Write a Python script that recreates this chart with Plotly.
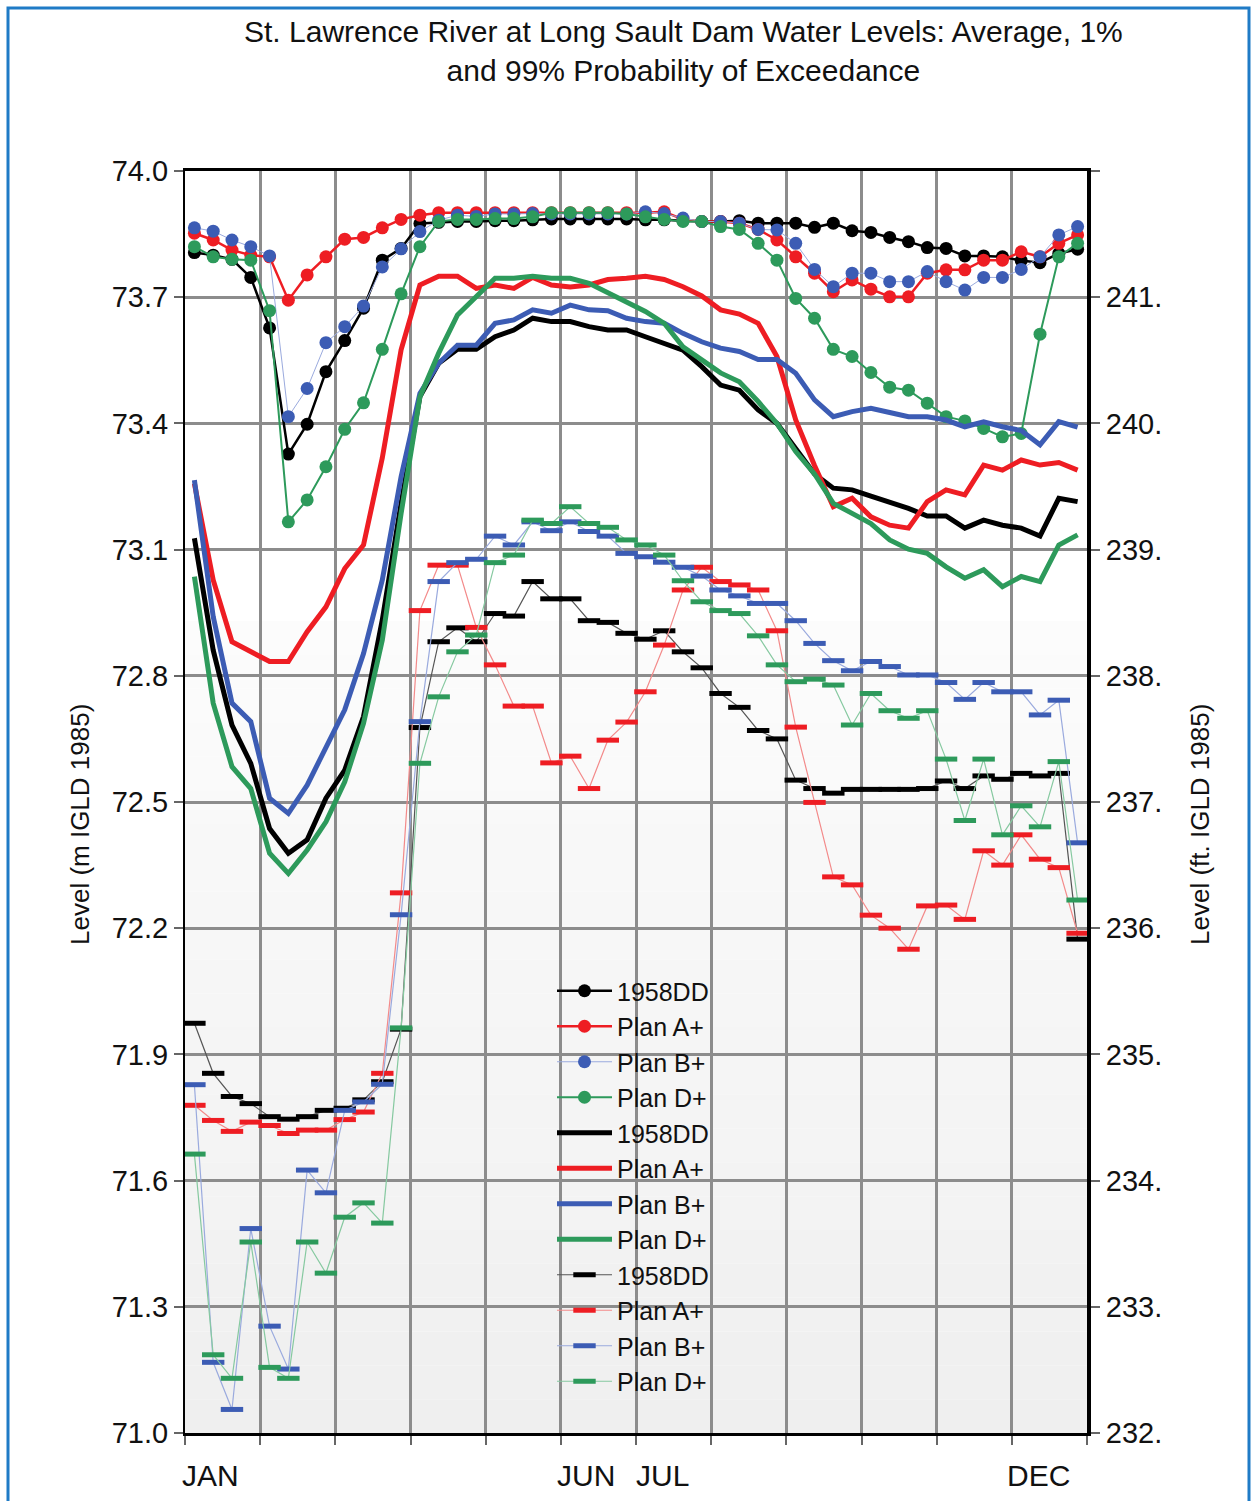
import plotly.graph_objects as go

weeks = list(range(1, 49))

# 1% exceedance (dots)
dd_1pct = [73.806, 73.800, 73.790, 73.747, 73.627, 73.327, 73.398, 73.523, 73.597, 73.674, 73.788, 73.816,
           73.875, 73.878, 73.880, 73.880, 73.882, 73.882, 73.884, 73.886, 73.886, 73.886, 73.886, 73.886,
           73.884, 73.884, 73.882, 73.880, 73.880, 73.882, 73.876, 73.876, 73.876, 73.866, 73.876, 73.858,
           73.854, 73.842, 73.832, 73.818, 73.816, 73.798, 73.798, 73.796, 73.787, 73.782, 73.804, 73.814]
a_1pct = [73.852, 73.836, 73.812, 73.800, 73.796, 73.693, 73.753, 73.796, 73.838, 73.842, 73.865, 73.885,
          73.895, 73.901, 73.901, 73.901, 73.901, 73.901, 73.901, 73.901, 73.901, 73.901, 73.901, 73.901,
          73.901, 73.903, 73.885, 73.880, 73.880, 73.876, 73.861, 73.836, 73.796, 73.757, 73.713, 73.741,
          73.719, 73.701, 73.701, 73.757, 73.765, 73.765, 73.788, 73.788, 73.808, 73.796, 73.828, 73.848]
b_1pct = [73.865, 73.857, 73.836, 73.820, 73.798, 73.416, 73.483, 73.592, 73.630, 73.679, 73.772, 73.815,
          73.856, 73.883, 73.895, 73.892, 73.898, 73.898, 73.899, 73.898, 73.898, 73.898, 73.898, 73.898,
          73.903, 73.899, 73.888, 73.880, 73.880, 73.876, 73.861, 73.860, 73.828, 73.766, 73.725, 73.757,
          73.757, 73.737, 73.737, 73.761, 73.737, 73.717, 73.747, 73.747, 73.766, 73.796, 73.848, 73.868]
d_1pct = [73.820, 73.796, 73.790, 73.788, 73.668, 73.166, 73.218, 73.297, 73.386, 73.449, 73.576, 73.708,
          73.820, 73.880, 73.885, 73.885, 73.887, 73.887, 73.891, 73.901, 73.901, 73.901, 73.901, 73.898,
          73.891, 73.885, 73.880, 73.880, 73.868, 73.861, 73.828, 73.788, 73.697, 73.650, 73.576, 73.559,
          73.521, 73.486, 73.479, 73.448, 73.416, 73.406, 73.388, 73.368, 73.376, 73.612, 73.796, 73.828]

# Average (thick lines)
dd_avg = [73.127, 72.861, 72.683, 72.592, 72.437, 72.378, 72.410, 72.509, 72.576, 72.703, 72.933, 73.210,
          73.464, 73.543, 73.576, 73.576, 73.606, 73.622, 73.650, 73.642, 73.642, 73.630, 73.622, 73.622,
          73.606, 73.590, 73.574, 73.535, 73.491, 73.479, 73.432, 73.400, 73.341, 73.280, 73.246, 73.242,
          73.227, 73.214, 73.198, 73.180, 73.180, 73.151, 73.170, 73.158, 73.151, 73.132, 73.222, 73.214]
a_avg = [73.257, 73.028, 72.881, 72.857, 72.834, 72.834, 72.905, 72.964, 73.055, 73.111, 73.318, 73.575,
         73.729, 73.750, 73.750, 73.721, 73.729, 73.721, 73.747, 73.729, 73.724, 73.729, 73.742, 73.745,
         73.750, 73.742, 73.725, 73.703, 73.670, 73.660, 73.638, 73.559, 73.408, 73.300, 73.202, 73.222,
         73.178, 73.158, 73.151, 73.214, 73.242, 73.230, 73.301, 73.289, 73.313, 73.301, 73.307, 73.289]
b_avg = [73.265, 72.941, 72.735, 72.691, 72.509, 72.473, 72.540, 72.632, 72.719, 72.853, 73.028, 73.273,
         73.471, 73.543, 73.586, 73.586, 73.638, 73.646, 73.670, 73.662, 73.681, 73.670, 73.668, 73.650,
         73.642, 73.638, 73.614, 73.594, 73.579, 73.571, 73.552, 73.552, 73.519, 73.456, 73.416, 73.428,
         73.436, 73.426, 73.416, 73.416, 73.408, 73.392, 73.404, 73.392, 73.383, 73.349, 73.404, 73.391]
d_avg = [73.036, 72.735, 72.584, 72.532, 72.378, 72.330, 72.386, 72.453, 72.548, 72.687, 72.885, 73.186,
         73.463, 73.567, 73.658, 73.701, 73.745, 73.745, 73.750, 73.745, 73.745, 73.733, 73.711, 73.689,
         73.666, 73.638, 73.582, 73.551, 73.520, 73.499, 73.452, 73.400, 73.333, 73.280, 73.210, 73.186,
         73.162, 73.123, 73.101, 73.091, 73.059, 73.032, 73.052, 73.012, 73.036, 73.024, 73.111, 73.135]

# 99% exceedance (thin lines with dashes)
dd_99 = [71.974, 71.855, 71.800, 71.783, 71.752, 71.746, 71.752, 71.767, 71.772, 71.792, 71.835, 71.960,
         72.677, 72.881, 72.914, 72.881, 72.948, 72.942, 73.024, 72.983, 72.983, 72.931, 72.927, 72.901,
         72.887, 72.907, 72.857, 72.819, 72.758, 72.725, 72.670, 72.650, 72.552, 72.532, 72.521, 72.530,
         72.530, 72.530, 72.530, 72.532, 72.550, 72.532, 72.562, 72.554, 72.568, 72.562, 72.568, 72.174]
a_99 = [71.779, 71.743, 71.717, 71.739, 71.731, 71.712, 71.720, 71.720, 71.745, 71.763, 71.855, 72.284,
        72.955, 73.063, 73.063, 72.915, 72.826, 72.728, 72.728, 72.593, 72.609, 72.532, 72.647, 72.690,
        72.762, 72.873, 73.004, 73.058, 73.024, 73.016, 73.004, 72.907, 72.678, 72.499, 72.322, 72.303,
        72.231, 72.200, 72.150, 72.253, 72.255, 72.221, 72.384, 72.350, 72.422, 72.364, 72.344, 72.188]
b_99 = [71.828, 71.168, 71.056, 71.486, 71.254, 71.152, 71.625, 71.571, 71.767, 71.787, 71.829, 72.232,
        72.691, 73.024, 73.069, 73.077, 73.132, 73.111, 73.166, 73.145, 73.166, 73.143, 73.132, 73.091,
        73.083, 73.070, 73.058, 73.037, 73.004, 72.990, 72.972, 72.972, 72.931, 72.877, 72.836, 72.812,
        72.834, 72.822, 72.802, 72.802, 72.784, 72.744, 72.784, 72.762, 72.762, 72.707, 72.742, 72.403]
d_99 = [71.663, 71.186, 71.130, 71.454, 71.156, 71.130, 71.454, 71.380, 71.513, 71.547, 71.499, 71.963,
        72.592, 72.750, 72.857, 72.897, 73.069, 73.087, 73.170, 73.162, 73.202, 73.162, 73.153, 73.123,
        73.111, 73.087, 73.026, 72.976, 72.955, 72.948, 72.895, 72.826, 72.786, 72.792, 72.778, 72.683,
        72.758, 72.717, 72.699, 72.717, 72.602, 72.456, 72.602, 72.422, 72.491, 72.441, 72.596, 72.267]

series_names = ["1958DD", "Plan A+", "Plan B+", "Plan D+"]
month_labels = ["JAN", "JUN", "JUL", "DEC"]
month_label_pos = [1.88, 21.84, 25.89, 45.9]
y_ticks_m = [74.0, 73.7, 73.4, 73.1, 72.8, 72.5, 72.2, 71.9, 71.6, 71.3, 71.0]
y_ticks_ft = ["", "241.", "240.", "239.", "238.", "237.", "236.", "235.", "234.", "233.", "232."]

colors = ["#000000", "#ee1d23", "#3c5cb4", "#2d9a5b"]
thin_line_colors = ["#555555", "#f38a8a", "#9aaade", "#86c9a0"]
dot_line_widths = [2.5, 2.5, 1, 2]

FONT = "Liberation Sans, Arial, sans-serif"
fig = go.Figure()

for name, ys, c, lw in zip(series_names, [dd_1pct, a_1pct, b_1pct, d_1pct], colors, dot_line_widths):
    lc = "#9aaade" if name == "Plan B+" else c
    fig.add_trace(go.Scatter(x=weeks, y=ys, name=name, mode="lines+markers",
                             line=dict(color=lc, width=lw),
                             marker=dict(color=c, size=13, symbol="circle")))

for name, ys, c in zip(series_names, [dd_avg, a_avg, b_avg, d_avg], colors):
    fig.add_trace(go.Scatter(x=weeks, y=ys, name=name, mode="lines",
                             line=dict(color=c, width=5)))

for name, ys, c, tc in zip(series_names, [dd_99, a_99, b_99, d_99], colors, thin_line_colors):
    fig.add_trace(go.Scatter(x=weeks, y=ys, name=name, mode="lines+markers",
                             line=dict(color=tc, width=1.2),
                             marker=dict(symbol="line-ew", size=16, line=dict(color=c, width=5))))

# dummy trace to instantiate the right axis
fig.add_trace(go.Scatter(x=[], y=[], yaxis="y2", showlegend=False, hoverinfo="skip"))

# light gradient background in the lower part of the plot area
shapes = []
top_v, bot_v, n = 72.93, 71.0, 24
for k in range(n):
    v0 = top_v - (top_v - bot_v) * k / n
    v1 = top_v - (top_v - bot_v) * (k + 1) / n
    g = int(round(252 - (252 - 239) * (k + 0.5) / n))
    shapes.append(dict(type="rect", xref="paper", yref="y", x0=0, x1=1, y0=v1, y1=v0,
                       fillcolor=f"rgb({g},{g},{g})", line=dict(width=0), layer="below"))
# blue frame
shapes.append(dict(type="rect", xref="paper", yref="paper",
                   x0=(8 - 185) / 902, x1=(1249 - 185) / 902,
                   y0=(1433 - 1520) / 1262, y1=(1433 - 8) / 1262,
                   line=dict(color="#1f7bc6", width=3), fillcolor="rgba(0,0,0,0)", layer="above"))

annotations = [
    dict(text="St. Lawrence River at Long Sault Dam Water Levels: Average, 1%<br>and 99% Probability of Exceedance",
         xref="paper", yref="paper", x=(683 - 185) / 902, y=(1433 - 51) / 1262,
         xanchor="center", yanchor="middle", showarrow=False,
         font=dict(family=FONT, size=30, color="#111111")),
    dict(text="Level (m IGLD 1985)", xref="paper", yref="paper", x=(80 - 185) / 902, y=(1433 - 825) / 1262,
         textangle=-90, xanchor="center", yanchor="middle", showarrow=False,
         font=dict(family=FONT, size=26, color="#111111")),
    dict(text="Level (ft. IGLD 1985)", xref="paper", yref="paper", x=(1200 - 185) / 902, y=(1433 - 825) / 1262,
         textangle=-90, xanchor="center", yanchor="middle", showarrow=False,
         font=dict(family=FONT, size=26, color="#111111")),
]
for lab, pos in zip(month_labels, month_label_pos):
    annotations.append(dict(text=lab, xref="x", yref="paper", x=pos, y=(1433 - 1475) / 1262,
                            xanchor="center", yanchor="middle", showarrow=False,
                            font=dict(family=FONT, size=30, color="#111111")))

fig.update_layout(
    width=1254, height=1501,
    margin=dict(l=185, r=167, t=171, b=68),
    paper_bgcolor="white", plot_bgcolor="white",
    font=dict(family=FONT, size=29, color="#111111"),
    showlegend=True,
    legend=dict(x=(552 - 185) / 902, y=(1433 - 968) / 1262, xanchor="left", yanchor="top",
                bgcolor="rgba(0,0,0,0)", borderwidth=0, itemwidth=55,
                font=dict(family=FONT, size=25, color="#111111"), tracegroupgap=0),
    xaxis=dict(range=[0.5, 48.5], tickvals=[0.5 + 4 * k for k in range(13)], showticklabels=False,
               ticks="outside", ticklen=9, tickcolor="#666666", tickwidth=1.5,
               showgrid=True, gridcolor="#8c8c8c", gridwidth=2.5,
               showline=True, linecolor="#000000", linewidth=3, mirror=True, zeroline=False),
    yaxis=dict(range=[71.0, 74.0], tickvals=y_ticks_m, ticktext=[f"{v:.1f}" for v in y_ticks_m],
               ticks="outside", ticklen=9, tickcolor="#666666", tickwidth=1.5,
               showgrid=True, gridcolor="#8c8c8c", gridwidth=2.5,
               showline=True, linecolor="#000000", linewidth=2, zeroline=False,
               tickfont=dict(family=FONT, size=29)),
    yaxis2=dict(range=[71.0, 74.0], overlaying="y", side="right", tickvals=y_ticks_m, ticktext=y_ticks_ft,
                ticks="outside", ticklen=9, tickcolor="#666666", tickwidth=1.5, showgrid=False,
                showline=True, linecolor="#000000", linewidth=4, zeroline=False,
                tickfont=dict(family=FONT, size=29)),
    shapes=shapes,
    annotations=annotations,
)

fig.write_html("out.html")
